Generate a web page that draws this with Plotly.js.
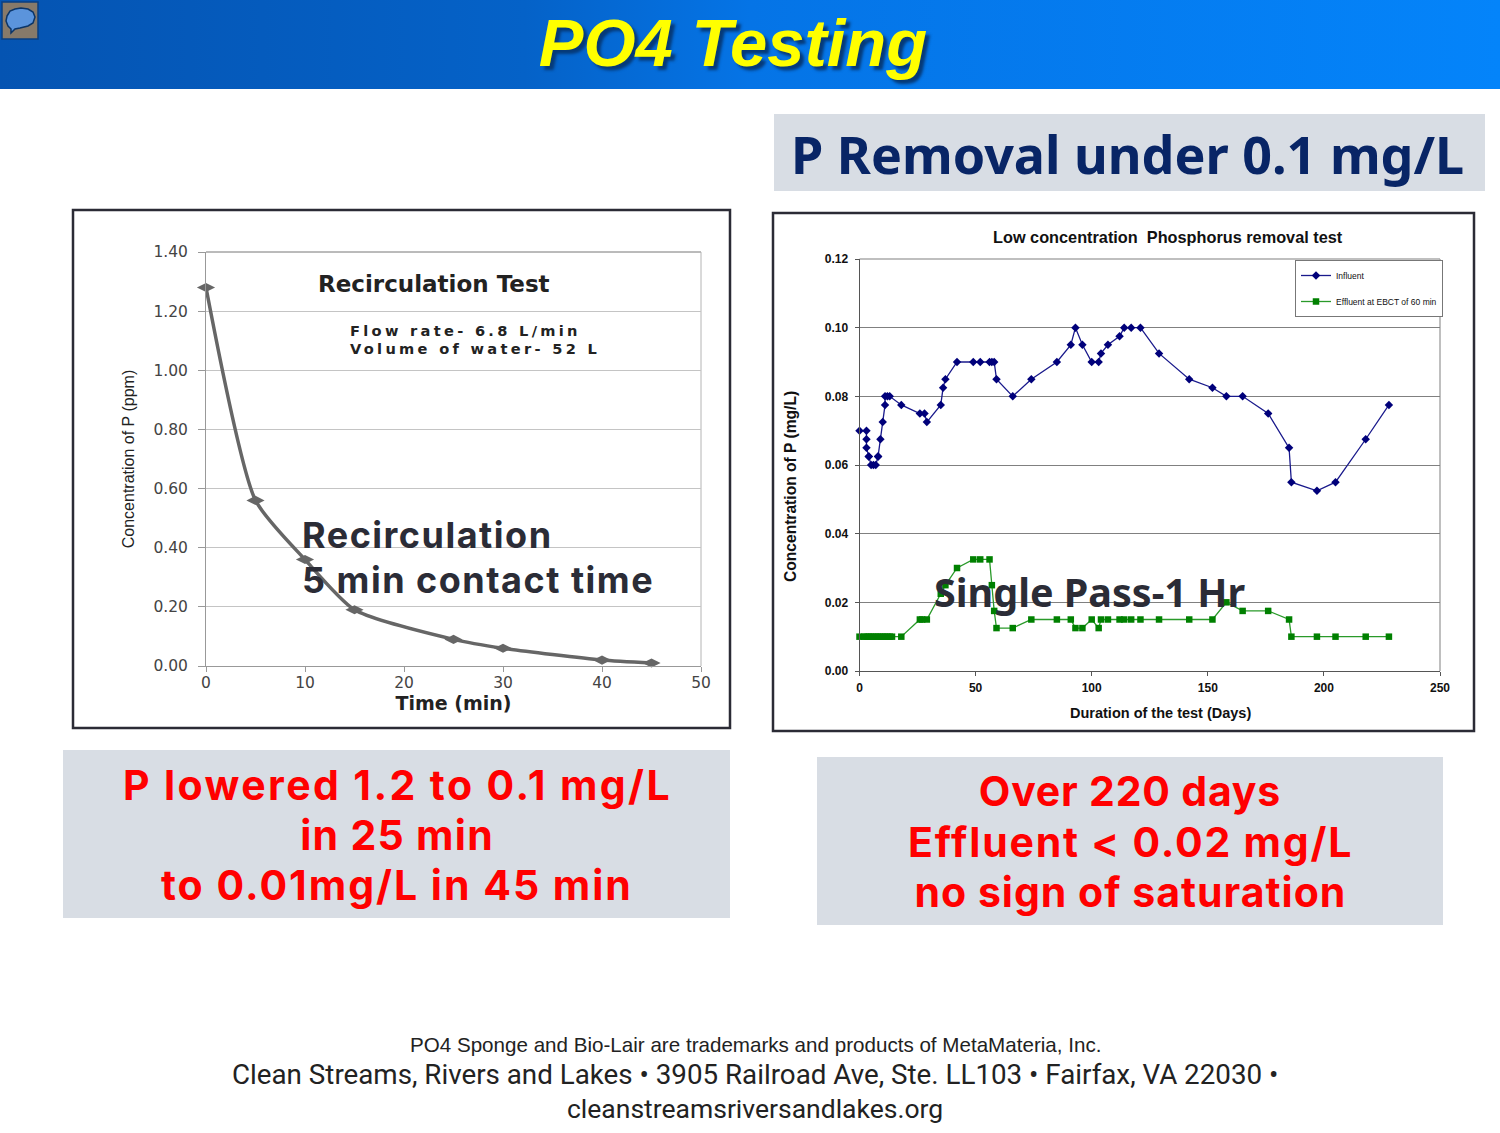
<!DOCTYPE html>
<html><head><meta charset="utf-8">
<script src="https://cdn.plot.ly/plotly-3.0.1.min.js"></script>
<style>
html,body{margin:0;padding:0;background:#fff;}
#wrap{position:relative;width:1500px;height:1133px;overflow:hidden;}
#band{position:absolute;left:0;top:0;width:1500px;height:89px;background:linear-gradient(90deg,#0554b2 0%,#0562c8 35%,#0574e6 50%,#0484fa 100%);}
#chart{position:absolute;left:0;top:0;width:1500px;height:1133px;}
g.annotation[data-index="1"] text{letter-spacing:2.4px;}
g.annotation[data-index="2"] text{letter-spacing:1.3px;}
g.annotation[data-index="3"] text{letter-spacing:2px;}
g.annotation[data-index="4"] text{letter-spacing:0.8px;}
g.annotation[data-index="5"] text{letter-spacing:1.8px;}
g.annotation[data-index="6"] text{letter-spacing:1px;}
g.annotation[data-index="7"] text,g.annotation[data-index="8"] text{letter-spacing:1.5px;}
g.annotation[data-index="11"] text,g.annotation[data-index="12"] text{letter-spacing:3.3px;}
</style></head><body>
<div id="wrap"><div id="band"></div><div id="chart"></div></div>
<script>
// Recirculation test
var recircTime = [0,5,10,15,25,30,40,45];
var recircConc = [1.28,0.56,0.36,0.19,0.09,0.06,0.02,0.01];
// Low concentration test
var influentDays = [0,3,3,3,4,4,5,6,7,8,8,9,10,11,11,12,13,18,26,28,29,35,36,37,42,49,52,56,57,58,59,66,74,85,91,93,96,100,103,104,107,112,114,117,121,129,142,152,158,165,176,185,186,197,205,218,228];
var influentConc = [0.07,0.07,0.0675,0.065,0.0625,0.0625,0.06,0.06,0.06,0.0625,0.0625,0.0675,0.0725,0.0775,0.08,0.08,0.08,0.0775,0.075,0.075,0.0725,0.0775,0.0825,0.085,0.09,0.09,0.09,0.09,0.09,0.09,0.085,0.08,0.085,0.09,0.095,0.1,0.095,0.09,0.09,0.0925,0.095,0.0975,0.1,0.1,0.1,0.0925,0.085,0.0825,0.08,0.08,0.075,0.065,0.055,0.0525,0.055,0.0675,0.0775];
var effluentDays = [0,2,3,4,5,6,7,8,9,10,11,12,13,14,18,26,27,29,35,37,42,49,52,56,57,58,59,66,74,85,91,93,96,100,103,104,107,112,114,117,121,129,142,152,158,165,176,185,186,197,205,218,228];
var effluentConc = [0.01,0.01,0.01,0.01,0.01,0.01,0.01,0.01,0.01,0.01,0.01,0.01,0.01,0.01,0.01,0.015,0.015,0.015,0.0225,0.025,0.03,0.0325,0.0325,0.0325,0.025,0.0175,0.0125,0.0125,0.015,0.015,0.015,0.0125,0.0125,0.015,0.0125,0.015,0.015,0.015,0.015,0.015,0.015,0.015,0.015,0.015,0.02,0.0175,0.0175,0.015,0.01,0.01,0.01,0.01,0.01];
var leftXTicks = [0,10,20,30,40,50];
var leftYTicks = [0,0.2,0.4,0.6,0.8,1.0,1.2,1.4];
var rightXTicks = [0,50,100,150,200,250];
var rightYTicks = [0,0.02,0.04,0.06,0.08,0.10,0.12];

var W=1500,H=1133;
function fx(p){return p/W;}
function fy(p){return 1-p/H;}
function rect(x0,y0,x1,y1,fill,line,lw){
  return {type:'rect',xref:'paper',yref:'paper',x0:fx(x0),x1:fx(x1),y0:fy(y0),y1:fy(y1),
    fillcolor:fill,line:{color:line||'rgba(0,0,0,0)',width:lw||0},layer:'below'};
}
function seg(x0,y0,x1,y1,c,w){
  return {type:'line',xref:'paper',yref:'paper',x0:fx(x0),x1:fx(x1),y0:fy(y0),y1:fy(y1),line:{color:c,width:w},layer:'below'};
}
function note(t,x,y,size,color,opts){
  var o=opts||{};
  return {text:t,xref:'paper',yref:'paper',x:fx(x),y:fy(y),showarrow:false,
    xanchor:o.xa||'center',yanchor:o.ya||'middle',align:o.align||'center',textangle:o.angle||0,
    font:{family:o.family||'Noto Sans',size:size,color:color,weight:o.weight||400}};
}
var bubble='M'+[[7,16],[10,11],[15,9],[21,8],[28,9],[33,12],[35,17],[33,23],[28,26],[20,28],[15,29],[11,33],[11,29],[8,26],[6,21]].map(function(p){return fx(p[0])+','+fy(p[1]);}).join('L')+'Z';

var shapes=[
  rect(2,2,38,39,'#877a6a','#0b3f80',1.5),
  {type:'path',xref:'paper',yref:'paper',path:bubble,fillcolor:'#5b94dc',line:{color:'#0b3568',width:1.5}},
  rect(774,114,1485,191,'#d8dde4'),
  rect(63,750,730,918,'#d8dde4'),
  rect(817,757,1443,925,'#d8dde4'),
  rect(73,210,730,728,'#ffffff','#2b2b35',2.5),
  rect(773,213,1474,731,'#ffffff','#2b2b35',2.5),
  seg(206,252,701,252,'#777777',1),
  seg(701,252,701,666,'#b4b4b4',1),
  seg(859.5,259,1440,259,'#aaaaaa',1.5),
  seg(1440,259,1440,671,'#aaaaaa',1.5)
];

var dark='#2b2c36', red='#ff0000', navy='#082566';
var bold={weight:700};
var redFont={weight:700,family:'Inter'};
var annotations=[
  note('P Removal under 0.1 mg/L',1127,154,52,navy,bold),
  note('P lowered 1.2 to 0.1 mg/L',397,785,41,red,redFont),
  note('in 25 min',397,835,41,red,redFont),
  note('to 0.01mg/L in 45 min',397,885,41,red,redFont),
  note('Over 220 days',1130,791,41,red,redFont),
  note('Effluent &lt; 0.02 mg/L',1130,842,41,red,redFont),
  note('no sign of saturation',1130,892,41,red,redFont),
  note('Recirculation',300,535,36,dark,{xa:'left',align:'left',weight:700,family:'Inter'}),
  note('5 min contact time',300,580,36,dark,{xa:'left',align:'left',weight:700,family:'Inter'}),
  note('Single Pass-1 Hr',932,592,39.5,dark,{xa:'left',align:'left',weight:700}),
  note('Recirculation Test',434,284,23,'#222222',{family:'DejaVu Sans',weight:700}),
  note('Flow rate- 6.8 L/min',348,331,14.6,'#222222',{family:'DejaVu Sans',weight:700,xa:'left',align:'left'}),
  note('Volume of water- 52 L',348,348,14.6,'#222222',{family:'DejaVu Sans',weight:700,xa:'left',align:'left'}),
  note('Low concentration  Phosphorus removal test',1168,237,16.3,'#111111',{family:'Liberation Sans',weight:700}),
  note('Duration of the test (Days)',1160,713,14.5,'#111111',{family:'Liberation Sans',weight:700}),
  note('Concentration of P (mg/L)',790,486,15.6,'#111111',{family:'Liberation Sans',weight:700,angle:-90}),
  note('PO4 Sponge and Bio-Lair are trademarks and products of MetaMateria, Inc.',755,1044.5,20.6,'#222222',{family:'Liberation Sans'}),
  note('Clean Streams, Rivers and Lakes • 3905 Railroad Ave, Ste. LL103 • Fairfax, VA 22030 •',755,1074,27.75,'#222222',{family:'Roboto'}),
  note('cleanstreamsriversandlakes.org',755,1108,26.5,'#222222',{family:'Roboto'})
];

var traces=[
  {x:recircTime,y:recircConc,xaxis:'x',yaxis:'y',mode:'lines+markers',name:'Recirculation',showlegend:false,cliponaxis:false,
   line:{color:'#666666',width:3.5,shape:'spline',smoothing:0.6},marker:{symbol:'diamond-wide',size:13,color:'#666666'}},
  {x:influentDays,y:influentConc,xaxis:'x2',yaxis:'y2',mode:'lines+markers',name:'Influent',legendgroup:'a',cliponaxis:false,
   line:{color:'#1a1a8c',width:1.3},marker:{symbol:'diamond',size:6.5,color:'#00007a'}},
  {x:effluentDays,y:effluentConc,xaxis:'x2',yaxis:'y2',mode:'lines+markers',name:'Effluent at EBCT of 60 min',legendgroup:'b',cliponaxis:false,
   line:{color:'#2a9a2a',width:1.3},marker:{symbol:'square',size:6.5,color:'#008000'}}
];

var leftFont={family:'DejaVu Sans',size:15.5,color:'#444444'};
var rightFont={family:'Liberation Sans',size:12,color:'#111111',weight:700};
var layout={
  width:W,height:H,margin:{l:0,r:0,t:0,b:0},autosize:false,
  paper_bgcolor:'rgba(0,0,0,0)',plot_bgcolor:'rgba(0,0,0,0)',
  title:{text:'PO4 Testing',xref:'paper',yref:'paper',x:733/W,y:fy(43),xanchor:'center',yanchor:'middle',
    font:{family:'Liberation Sans',size:67,color:'#ffff00',weight:700,style:'italic',shadow:'4px 4px 3px #063a78'}},
  xaxis:{domain:[fx(206),fx(701)],range:[0,50],tickvals:leftXTicks,ticktext:leftXTicks.map(String),
    ticks:'outside',ticklen:5,tickcolor:'#999999',showline:true,linecolor:'#999999',showgrid:false,zeroline:false,
    tickfont:leftFont,ticklabelstandoff:-3,anchor:'y',
    title:{text:'Time (min)',standoff:0,font:{family:'DejaVu Sans',size:19,color:'#222222',weight:700}}},
  yaxis:{domain:[fy(666),fy(252)],range:[0,1.4],tickvals:leftYTicks,tickformat:'.2f',
    ticks:'outside',ticklen:7,tickcolor:'#999999',showline:true,linecolor:'#999999',gridcolor:'#c4c4c4',gridwidth:1,zeroline:false,
    tickfont:leftFont,ticklabelstandoff:7,anchor:'x',
    title:{text:'Concentration of P (ppm)',standoff:14,font:{family:'Liberation Sans',size:16,color:'#222222'}}},
  xaxis2:{domain:[fx(859.5),fx(1440)],range:[0,250],tickvals:rightXTicks,
    ticks:'outside',ticklen:4,tickcolor:'#555555',showline:true,linecolor:'#555555',showgrid:false,zeroline:false,
    tickfont:rightFont,ticklabelstandoff:2,anchor:'y2'},
  yaxis2:{domain:[fy(671),fy(259)],range:[0,0.12],tickvals:rightYTicks,tickformat:'.2f',
    ticks:'outside',ticklen:4,tickcolor:'#555555',showline:true,linecolor:'#555555',gridcolor:'#808080',gridwidth:1,zeroline:false,
    tickfont:rightFont,ticklabelstandoff:4,anchor:'x2'},
  showlegend:true,
  legend:{x:fx(1295),y:fy(260),xanchor:'left',yanchor:'top',bgcolor:'#ffffff',bordercolor:'#777777',borderwidth:1,
    font:{family:'Liberation Sans',size:8.5,color:'#111111'},itemwidth:30,tracegroupgap:7,traceorder:'grouped',
    entrywidth:94,entrywidthmode:'pixels'},
  shapes:shapes,annotations:annotations,hovermode:false
};
Plotly.newPlot('chart',traces,layout,{staticPlot:true,displayModeBar:false});
</script>
</body></html>
